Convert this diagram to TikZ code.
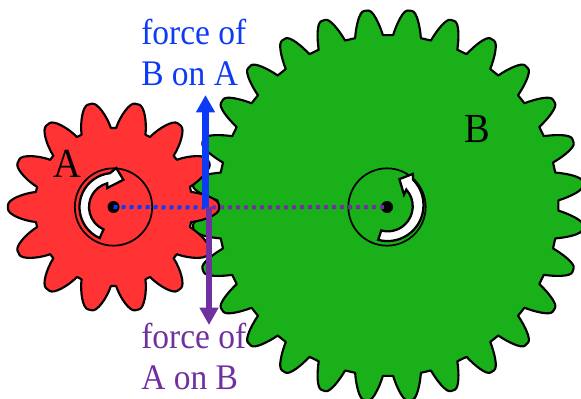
\documentclass[tikz,border=0pt]{standalone}
\usepackage{fontspec}
\setmainfont[FakeStretch=0.93]{Liberation Serif}
\usetikzlibrary{arrows.meta}
\definecolor{gearred}{HTML}{FF3333}
\definecolor{geargreen}{HTML}{1AB01A}
\definecolor{forceblue}{HTML}{0D3BF5}
\definecolor{forcepurple}{HTML}{7030A0}
\tikzset{
  gearbody/.style={draw=black,line width=1.6pt,line join=round},
  hub/.style={draw=black,line width=1.3pt},
  turn/.style={draw=black,fill=white,line width=1.7pt,line join=miter},
  pin/.style={circle,fill=black,inner sep=0pt,minimum size=9pt},
  forcearrow/.style={line width=4.8pt,-{Triangle[length=13pt,width=13.5pt]}},
  centreline/.style={line width=3pt,dash pattern=on 3pt off 3pt},
  caption/.style={font=\fontsize{27}{30.75}\selectfont,align=left,anchor=north west,inner sep=0pt},
  gearletter/.style={font=\fontsize{31}{32}\selectfont,inner sep=0pt}
}
\begin{document}
\begin{tikzpicture}[x=0.75pt,y=-0.75pt]
\useasboundingbox (0,0) rectangle (581,399);
\coordinate (ca) at (113.5,207);
\coordinate (cb) at (388,205.5);
\def\gs{12.857}
\fill[geargreen,gearbody,shift={(cb)},yscale=-1]
  (96.43+4.7:170.5) \foreach \i in {0,...,27}{
    \pgfextra{\pgfmathsetmacro{\a}{96.43-\i*\gs}}
    -- (\a+4.7:170.5)
    .. controls (\a+3.7:182) and (\a+2.0:196) .. (\a+0.6:196)
    -- (\a-0.6:196)
    .. controls (\a-2.0:196) and (\a-3.7:182) .. (\a-4.7:170.5)
  } -- cycle;
\def\gt{25.714}
\fill[gearred,gearbody,shift={(ca)},yscale=-1]
  (11:79) \foreach \i in {0,...,13}{
    \pgfextra{\pgfmathsetmacro{\a}{-\i*\gt}}
    -- (\a+11:79)
    .. controls (\a+8.5:92) and (\a+4:105.5) .. (\a+1.2:105.5)
    -- (\a-1.2:105.5)
    .. controls (\a-4:105.5) and (\a-8.5:92) .. (\a-11:79)
  } -- cycle;
\node[hub,circle,minimum size=58pt,inner sep=0pt] (huba) at (113.5,207) {};
\node[hub,circle,minimum size=58pt,inner sep=0pt] (hubb) at (387,207) {};
\draw[turn,shift={(113.5,207)},yscale=-1] (246:34) arc[start angle=246,end angle=96,radius=34]
  -- (86:39) -- (70:29) -- (108:20) -- (105:24.5)
  arc[start angle=105,end angle=246,radius=24.5] -- cycle;
\draw[turn,shift={(387,207)},yscale=-1] (255:34) arc[start angle=255,end angle=405,radius=36]
  -- (52:42) -- (66:30.5) -- (36:21) -- (42:26)
  arc[start angle=42,end angle=-105,radius=25] -- cycle;
\node[pin] (pina) at (113.5,207) {};
\node[pin] (pinb) at (387,207) {};
\coordinate (bluetip) at (205.5,95);
\coordinate (bluestart) at (205.5,207.5);
\coordinate (purpletip) at (209,325);
\coordinate (purplestart) at (209,207);
\coordinate (dotsblue) at (205.5,207.5);
\coordinate (dotspurple) at (212,207.5);
\draw[centreline,forceblue] (pina.center) -- (dotsblue);
\draw[centreline,forcepurple] (dotspurple) -- (pinb.center);
\draw[forcearrow,forceblue] (bluestart) -- (bluetip);
\draw[forcearrow,forcepurple] (purplestart) -- (purpletip);
\node[caption,text=forceblue] (tb) at (141,19) {force of\\B on A};
\node[caption,text=forcepurple] (tp) at (141,323) {force of\\A on B};
\node[gearletter] (la) at (67,163.5) {A};
\node[gearletter] (lb) at (477,129) {B};
\end{tikzpicture}
\end{document}
